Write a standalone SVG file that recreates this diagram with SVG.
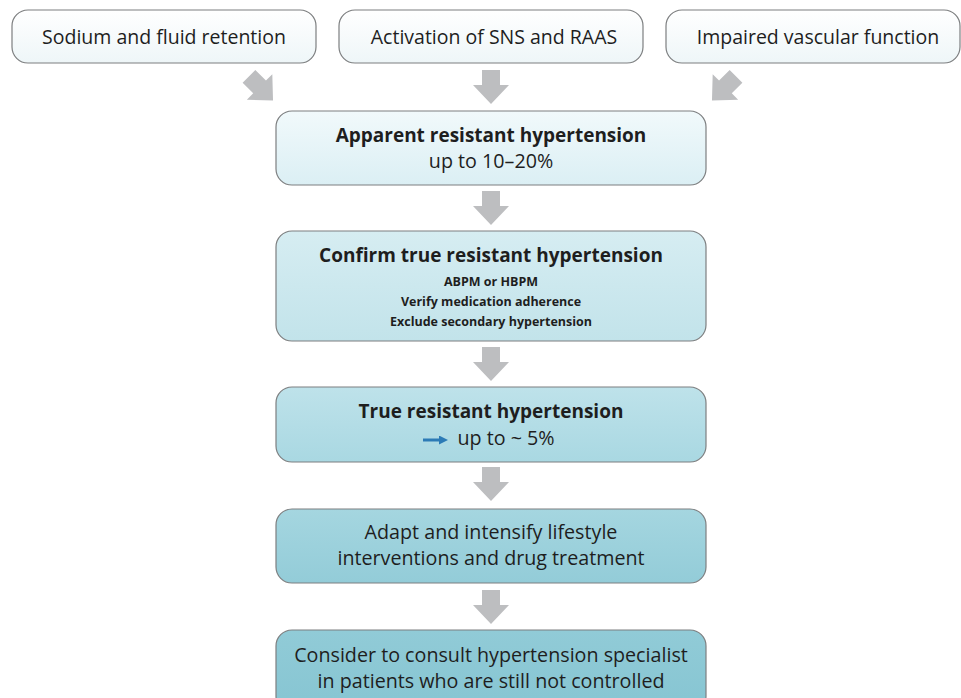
<svg xmlns="http://www.w3.org/2000/svg" width="961" height="698" viewBox="0 0 961 698">
<defs>
<style>
.box{stroke:#7d7f80;stroke-width:1.2}
.t{font-family:"Open Sans","Noto Sans","Liberation Sans",sans-serif;fill:#1e1e1e;text-anchor:middle}
.top{font-size:19.5px}
.title{font-size:19px;font-weight:bold}
.sub{font-size:19.7px}
.small{font-size:12.5px;font-weight:bold}
.arr{fill:#bdbec0}
</style>
<linearGradient id="g0" x1="0" y1="0" x2="0" y2="1"><stop offset="0" stop-color="#ffffff"/><stop offset="1" stop-color="#eef6f8"/></linearGradient>
<linearGradient id="g1" x1="0" y1="0" x2="0" y2="1"><stop offset="0" stop-color="#f1f9fb"/><stop offset="1" stop-color="#dbeff4"/></linearGradient>
<linearGradient id="g2" x1="0" y1="0" x2="0" y2="1"><stop offset="0" stop-color="#d6edf2"/><stop offset="1" stop-color="#c2e3ea"/></linearGradient>
<linearGradient id="g3" x1="0" y1="0" x2="0" y2="1"><stop offset="0" stop-color="#bee2ea"/><stop offset="1" stop-color="#a9d8e2"/></linearGradient>
<linearGradient id="g4" x1="0" y1="0" x2="0" y2="1"><stop offset="0" stop-color="#a5d6e0"/><stop offset="1" stop-color="#93ccd8"/></linearGradient>
<linearGradient id="g5" x1="0" y1="0" x2="0" y2="1"><stop offset="0" stop-color="#91cbd7"/><stop offset="1" stop-color="#86c5d2"/></linearGradient>
<path id="down" d="M-9,-17 L9,-17 L9,-2 L18,-2 L0,17 L-18,-2 L-9,-2 Z"/>
<marker id="bh" markerWidth="9" markerHeight="9" refX="1" refY="4.5" orient="auto" markerUnits="userSpaceOnUse"><path d="M0,0 L9,4.5 L0,9 Z" fill="#2c7bb6"/></marker>
</defs>
<rect width="961" height="698" fill="#ffffff"/>

<g id="connectors" class="arr">
<use href="#down" transform="translate(261,88.4) rotate(-45)"/>
<use href="#down" transform="translate(491,87)"/>
<use href="#down" transform="translate(724,88.4) rotate(45)"/>
<use href="#down" transform="translate(491,208)"/>
<use href="#down" transform="translate(491,364)"/>
<use href="#down" transform="translate(491,484)"/>
<use href="#down" transform="translate(491,607)"/>
</g>

<g id="n-sodium">
<rect class="box" x="12" y="10" width="304" height="53" rx="16" fill="url(#g0)"/>
<text class="t top" x="164" y="44">Sodium and fluid retention</text>
</g>
<g id="n-sns">
<rect class="box" x="339" y="10" width="304" height="53" rx="16" fill="url(#g0)"/>
<text class="t top" x="494" y="44">Activation of SNS and RAAS</text>
</g>
<g id="n-vascular">
<rect class="box" x="666" y="10" width="294" height="53" rx="16" fill="url(#g0)"/>
<text class="t top" x="818" y="44">Impaired vascular function</text>
</g>

<g id="n-apparent">
<rect class="box" x="276" y="111" width="430" height="74" rx="16" fill="url(#g1)"/>
<text class="t title" x="491" y="142">Apparent resistant hypertension</text>
<text class="t sub" x="491" y="168">up to 10–20%</text>
</g>

<g id="n-confirm">
<rect class="box" x="276" y="231" width="430" height="110" rx="16" fill="url(#g2)"/>
<text class="t title" x="491" y="262">Confirm true resistant hypertension</text>
<text class="t small" x="491" y="286">ABPM or HBPM</text>
<text class="t small" x="491" y="306">Verify medication adherence</text>
<text class="t small" x="491" y="326">Exclude secondary hypertension</text>
</g>

<g id="n-true">
<rect class="box" x="276" y="387" width="430" height="75" rx="16" fill="url(#g3)"/>
<text class="t title" x="491" y="418">True resistant hypertension</text>
<line x1="423" y1="440" x2="440" y2="440" stroke="#2c7bb6" stroke-width="3" marker-end="url(#bh)"/>
<text class="t sub" x="506" y="445">up to ~ 5%</text>
</g>

<g id="n-adapt">
<rect class="box" x="276" y="509" width="430" height="74" rx="16" fill="url(#g4)"/>
<text class="t sub" x="491" y="539">Adapt and intensify lifestyle</text>
<text class="t sub" x="491" y="565">interventions and drug treatment</text>
</g>

<g id="n-consult">
<rect class="box" x="276" y="630" width="430" height="82" rx="16" fill="url(#g5)"/>
<text class="t sub" x="491" y="662">Consider to consult hypertension specialist</text>
<text class="t sub" x="491" y="688">in patients who are still not controlled</text>
</g>
</svg>
